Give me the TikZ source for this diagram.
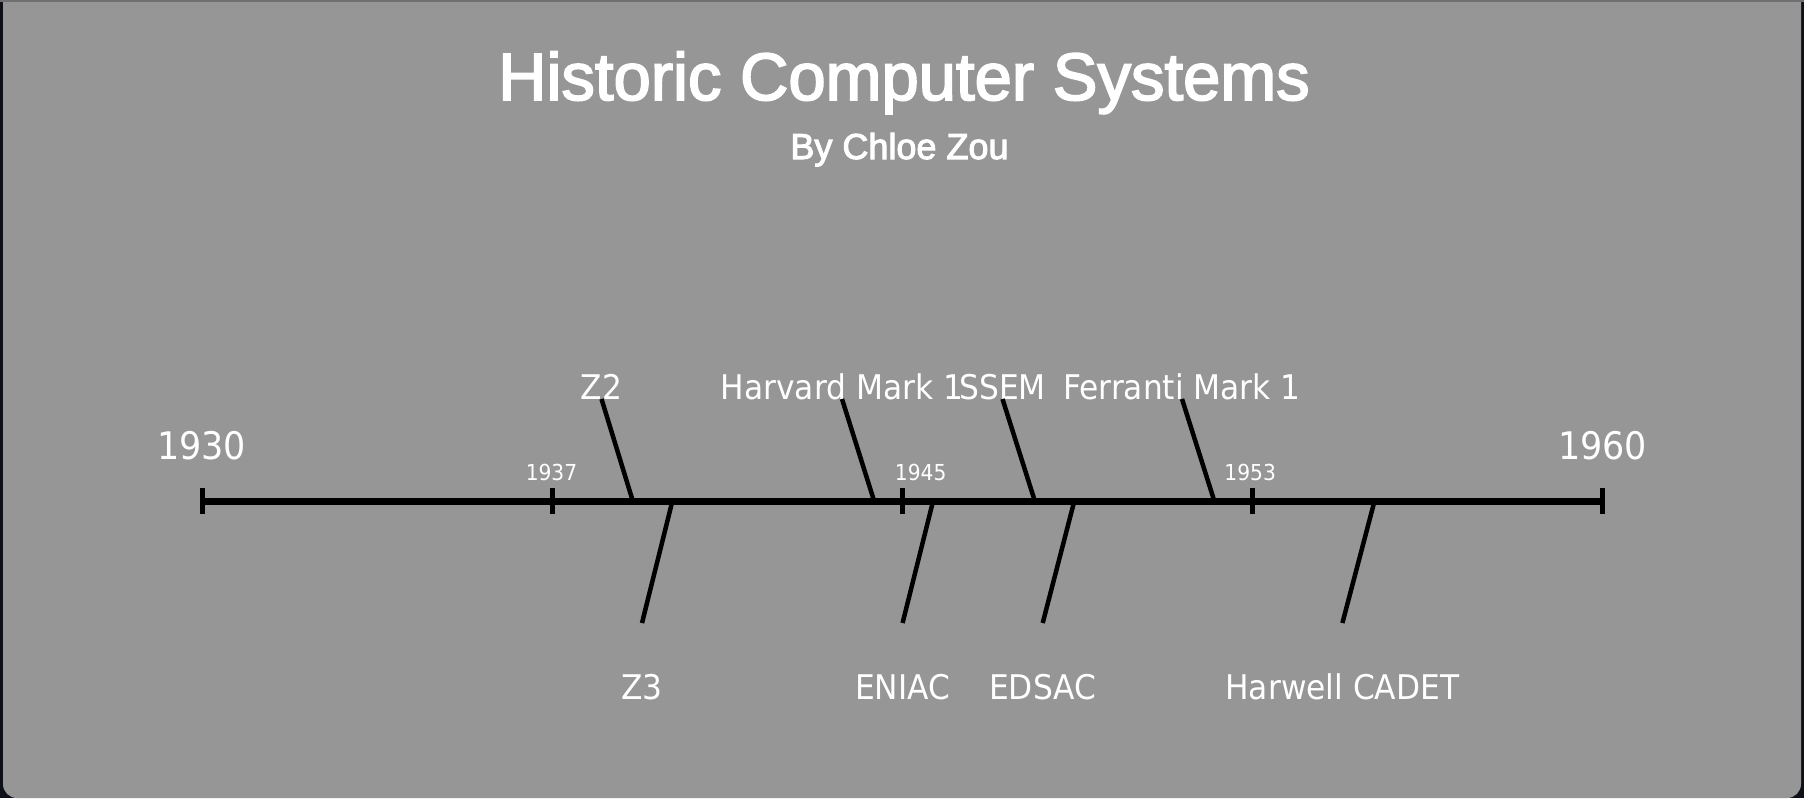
\documentclass[tikz,border=0pt]{standalone}
\usepackage{fontspec}
\newfontfamily\labelfont[FakeStretch=0.92]{DejaVu Sans}
\newfontfamily\titlefont[FakeBold=2.6]{Liberation Sans}
\newfontfamily\bylinefont[FakeBold=2.8]{Liberation Sans}
\definecolor{panelgray}{RGB}{150,150,150}
\definecolor{framedark}{RGB}{13,17,23}
\definecolor{frametop}{RGB}{112,112,112}
\tikzset{%
  % text classes
  heading/.style={text=white, inner sep=0pt, anchor=base, font=\titlefont\fontsize{67}{70}\selectfont},
  subheading/.style={heading, font=\bylinefont\fontsize{36}{40}\selectfont},
  endyear/.style={text=white, inner sep=0pt, anchor=base, font=\labelfont\fontsize{38}{40}\selectfont},
  midyear/.style={endyear, font=\labelfont\fontsize{22}{24}\selectfont},
  machine/.style={endyear, font=\labelfont\fontsize{34}{36}\selectfont},
  % line styles
  axisline/.style={line width=7pt},
  yeartick/.style={line width=5.5pt},
  pointer/.style={line width=4.5pt},
}

\begin{document}
\begin{tikzpicture}[x=1pt, y=-1pt]
  % Frame
  \useasboundingbox (0,0) rectangle (1804,798);
  \fill[framedark] (0,0) rectangle (1804,798);
  \fill[panelgray, rounded corners=14pt] (3,-30) rectangle (1801,798);
  \fill[frametop] (0,0) rectangle (1804,2);

  % Heading
  \node[heading] (title) at (904,100) {Historic Computer Systems};
  \node[subheading] (byline) at (899.5,159) {By Chloe Zou};

  % Axis and year ticks
  \coordinate (y1930) at (202.7,501);
  \coordinate (y1960) at (1602.7,501);
  \draw[axisline] (y1930) -- (y1960);
  \foreach \x in {202.7, 552.7, 902.7, 1252.7, 1602.7}
    \draw[yeartick] (\x,488) -- (\x,514);

  \node[endyear] (l1930) at (201.5,459) {1930};
  \node[endyear] (l1960) at (1602.5,459) {1960};
  \node[midyear] (l1937) at (551.5,480) {1937};
  \node[midyear] (l1945) at (920.7,480) {1945};
  \node[midyear] (l1953) at (1250.2,480) {1953};

  % Machines above the axis
  \foreach \id/\ax/\tx/\txt in {z2/632.8/601.5/Z2, harvard/874.1/842/Harvard Mark 1,
      ssem/1034.8/1002.5/SSEM, ferranti/1214.3/1182/Ferranti Mark 1} {
    \node[machine] (\id) at (\tx,399) {\txt};
    \coordinate (\id-on) at (\ax,501);
    \draw[pointer] (\id-on) -- (\id.base);
  }

  % Machines below the axis
  \foreach \id/\ax/\bx/\txt in {z3/672.4/642/Z3, eniac/933.1/902.6/ENIAC,
      edsac/1074.3/1042.7/EDSAC, cadet/1374.5/1342.4/Harwell CADET} {
    \coordinate (\id-on) at (\ax,501);
    \coordinate (\id-end) at (\bx,623);
    \node[machine] (\id) at (\bx,699) {\txt};
    \draw[pointer] (\id-on) -- (\id-end);
  }
\end{tikzpicture}
\end{document}
